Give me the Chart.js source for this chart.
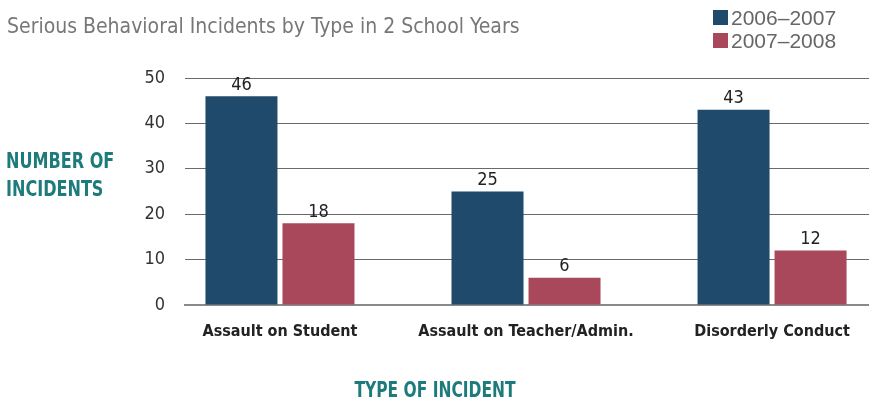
<!DOCTYPE html>
<html>
<head>
<meta charset="utf-8">
<script src="https://cdn.jsdelivr.net/npm/chart.js@4"></script>
<style>
  html, body { margin: 0; padding: 0; background: #fff; }
  #wrap { width: 869px; height: 399px; position: relative; }
</style>
</head>
<body>
<div id="wrap"><canvas id="myChart" width="869" height="399"></canvas></div>
<script>
const categorias = ['Assault on Student', 'Assault on Teacher/Admin.', 'Disorderly Conduct'];
const anos = ['2006–2007', '2007–2008'];
const dados0607 = [46, 25, 43];
const dados0708 = [18, 6, 12];
const yTicks = [0, 10, 20, 30, 40, 50];

const NARROW = "'Liberation Sans Narrow', 'DejaVu Sans Condensed', sans-serif";
const AZUL = '#1f4a6c';
const VERMELHO = '#a8485a';
const TEAL = '#1d7b7b';

function pontos(valores) {
    return valores.map((v, i) => ({ x: i, y: v }));
}

// texto estreito: escala horizontal
function textoEstreito(ctx, texto, x, y, escala) {
    ctx.save();
    ctx.translate(x, y);
    ctx.scale(escala, 1);
    ctx.fillText(texto, 0, 0);
    ctx.restore();
}

const textosPlugin = {
    id: 'textos',
    afterDraw(chart) {
        const ctx = chart.ctx;
        ctx.save();
        ctx.textAlign = 'left';
        ctx.textBaseline = 'alphabetic';
        ctx.fillStyle = '#777';
        ctx.font = '21px ' + NARROW;
        ctx.fillText('Serious Behavioral Incidents by Type in 2 School Years', 7, 33);

        const cores = [AZUL, VERMELHO];
        ctx.font = "21px 'Liberation Sans', Arial, sans-serif";
        anos.forEach((a, i) => {
            const y = 10 + i * 23;
            ctx.fillStyle = cores[i];
            ctx.fillRect(713, y, 15, 15);
            ctx.fillStyle = '#666';
            ctx.fillText(a, 731, y + 15);
        });

        ctx.fillStyle = TEAL;
        ctx.font = 'bold 21px ' + NARROW;
        textoEstreito(ctx, 'NUMBER OF', 6, 168, 0.85);
        textoEstreito(ctx, 'INCIDENTS', 6, 196, 0.85);
        ctx.textAlign = 'center';
        textoEstreito(ctx, 'TYPE OF INCIDENT', 435, 397, 0.82);
        ctx.restore();
    },
    afterDatasetsDraw(chart) {
        const ctx = chart.ctx;
        ctx.save();
        ctx.fillStyle = '#222';
        ctx.font = '18px ' + NARROW;
        ctx.textAlign = 'center';
        ctx.textBaseline = 'bottom';
        chart.data.datasets.forEach((ds, i) => {
            chart.getDatasetMeta(i).data.forEach((bar, j) => {
                ctx.fillText(ds.data[j].y, bar.x, bar.y - 2);
            });
        });
        ctx.restore();
    }
};

const ctx = document.getElementById('myChart');

new Chart(ctx, {
    type: 'bar',
    data: {
        datasets: [
            {
                label: anos[0],
                data: pontos(dados0607),
                backgroundColor: AZUL,
                borderWidth: 0
            },
            {
                label: anos[1],
                data: pontos(dados0708),
                backgroundColor: VERMELHO,
                borderWidth: 0
            }
        ]
    },
    options: {
        responsive: false,
        animation: false,
        categoryPercentage: 0.626,
        barPercentage: 0.935,
        layout: {
            padding: { top: 78, left: 0, right: 0, bottom: 0 }
        },
        scales: {
            x: {
                type: 'linear',
                offset: false,
                min: -0.386,
                max: 2.394,
                afterBuildTicks(scale) {
                    scale.ticks = categorias.map((c, i) => ({ value: i }));
                },
                afterFit(scale) {
                    scale.height = 94;
                },
                ticks: {
                    callback: (v) => categorias[v] || '',
                    color: '#222',
                    padding: 9,
                    maxRotation: 0,
                    autoSkip: false,
                    font: { family: NARROW, size: 16, weight: 'bold' }
                },
                grid: { display: false },
                border: { display: true, color: '#8a8a8a', width: 2 }
            },
            y: {
                min: 0,
                max: 50,
                afterBuildTicks(scale) {
                    scale.ticks = yTicks.map(v => ({ value: v }));
                },
                afterFit(scale) {
                    scale.width = 185;
                },
                ticks: {
                    color: '#333',
                    padding: 20,
                    font: { family: NARROW, size: 18 }
                },
                grid: {
                    color: '#6a6a6a',
                    lineWidth: 1,
                    drawTicks: false
                },
                border: { display: false }
            }
        },
        plugins: {
            legend: { display: false },
            title: { display: false },
            tooltip: { enabled: false }
        }
    },
    plugins: [textosPlugin]
});
</script>
</body>
</html>
